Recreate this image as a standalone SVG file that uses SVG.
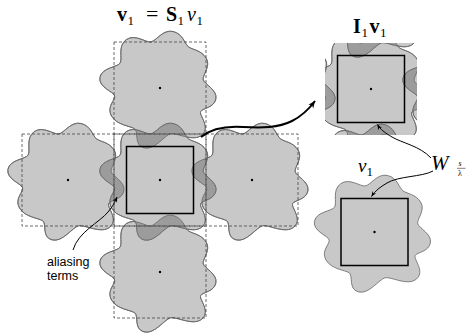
<svg xmlns="http://www.w3.org/2000/svg" xmlns:xlink="http://www.w3.org/1999/xlink" width="467" height="333" viewBox="0 0 467 333">
<style>
.blob{fill:#c8c8c8;stroke:#666;stroke-width:0.8}
.dark{fill:#9c9c9c;stroke:none}
.ol{fill:none;stroke:#666;stroke-width:0.8}
.grid{fill:none;stroke:#444;stroke-width:0.8;stroke-dasharray:3 2}
.sq{fill:none;stroke:#000;stroke-width:1.5}
.dot{fill:#000}
.conn{fill:none;stroke:#000}
.math{font-family:"Liberation Serif","Times New Roman",serif;fill:#000}
.lbl{font-family:"Liberation Sans",Arial,sans-serif;font-size:12.5px;fill:#000}
</style>
<defs>
<path id="b" d="M55.9,10.9 C54.1,19.9 42.8,20.0 40.7,23.5 C38.7,27.1 50.8,39.0 42.2,46.8 C33.6,54.6 16.7,44.4 10.6,45.8 C4.5,47.2 -5.4,62.7 -16.0,59.9 C-26.6,57.1 -21.1,43.4 -25.4,40.7 C-29.7,38.0 -43.2,37.2 -48.5,28.0 C-53.8,18.8 -44.6,12.2 -45.3,8.0 C-46.0,3.8 -61.8,-0.6 -60.1,-10.6 C-58.3,-20.5 -42.5,-20.7 -39.9,-24.9 C-37.2,-29.1 -42.7,-42.1 -33.8,-48.3 C-24.9,-54.6 -14.2,-45.1 -9.0,-46.1 C-3.8,-47.1 2.9,-58.9 13.1,-56.5 C23.3,-54.1 24.4,-44.0 28.7,-41.0 C33.0,-38.0 40.9,-38.0 46.1,-30.0 C51.3,-22.0 42.3,-12.9 43.2,-8.4 C44.1,-3.9 57.7,1.9 55.9,10.9 Z"/>
<clipPath id="cC"><use xlink:href="#b" x="160" y="180"/></clipPath>
<clipPath id="cI"><use xlink:href="#b" x="371" y="89"/></clipPath>
<clipPath id="tileI"><rect x="325" y="43" width="92" height="92"/></clipPath>
<marker id="ah" viewBox="-8 -4 9 8" refX="0" refY="0" markerWidth="9" markerHeight="8" markerUnits="userSpaceOnUse" orient="auto">
<path d="M0,0 L-7,-3 L-5,0 L-7,3 Z" fill="#000"/>
</marker>
<marker id="ahs" viewBox="-7 -3 8 6" refX="0" refY="0" markerWidth="7" markerHeight="6" markerUnits="userSpaceOnUse" orient="auto">
<path d="M0,0 L-6,-2.5 L-4.2,0 L-6,2.5 Z" fill="#000"/>
</marker>
</defs>

<g id="tile-top"><use xlink:href="#b" x="160" y="88" class="blob"/><circle class="dot" cx="160" cy="88" r="1.2"/></g>
<g id="tile-left"><use xlink:href="#b" x="68" y="180" class="blob"/><circle class="dot" cx="68" cy="180" r="1.2"/></g>
<g id="tile-right"><use xlink:href="#b" x="252" y="180" class="blob"/><circle class="dot" cx="252" cy="180" r="1.2"/></g>
<g id="tile-bottom"><use xlink:href="#b" x="160" y="272" class="blob"/><circle class="dot" cx="160" cy="272" r="1.2"/></g>
<g id="tile-center"><use xlink:href="#b" x="160" y="180" class="blob"/></g>

<g id="aliasing-overlaps">
<g clip-path="url(#cC)">
<use xlink:href="#b" x="160" y="88" class="dark"/>
<use xlink:href="#b" x="68" y="180" class="dark"/>
<use xlink:href="#b" x="252" y="180" class="dark"/>
<use xlink:href="#b" x="160" y="272" class="dark"/>
</g>
<use xlink:href="#b" x="160" y="88" class="ol"/>
<use xlink:href="#b" x="68" y="180" class="ol"/>
<use xlink:href="#b" x="252" y="180" class="ol"/>
<use xlink:href="#b" x="160" y="272" class="ol"/>
<use xlink:href="#b" x="160" y="180" class="ol"/>
</g>

<g id="grid">
<rect class="grid" x="114" y="42" width="92" height="92"/>
<rect class="grid" x="22" y="134" width="92" height="92"/>
<rect class="grid" x="114" y="134" width="92" height="92"/>
<rect class="grid" x="206" y="134" width="92" height="92"/>
<rect class="grid" x="114" y="226" width="92" height="92"/>
</g>

<g id="center-square">
<rect class="sq" x="126.5" y="146.5" width="67" height="67"/>
<circle class="dot" cx="160" cy="180" r="1.2"/>
</g>

<g id="I1v1">
<g clip-path="url(#tileI)">
<use xlink:href="#b" x="371" y="89" class="blob"/>
<use xlink:href="#b" x="371" y="-3" class="blob"/>
<use xlink:href="#b" x="371" y="181" class="blob"/>
<use xlink:href="#b" x="279" y="89" class="blob"/>
<use xlink:href="#b" x="463" y="89" class="blob"/>
<g clip-path="url(#cI)">
<use xlink:href="#b" x="371" y="-3" class="dark"/>
<use xlink:href="#b" x="371" y="181" class="dark"/>
<use xlink:href="#b" x="279" y="89" class="dark"/>
<use xlink:href="#b" x="463" y="89" class="dark"/>
</g>
<use xlink:href="#b" x="371" y="89" class="ol"/>
<use xlink:href="#b" x="371" y="-3" class="ol"/>
<use xlink:href="#b" x="371" y="181" class="ol"/>
<use xlink:href="#b" x="279" y="89" class="ol"/>
<use xlink:href="#b" x="463" y="89" class="ol"/>
</g>
<rect class="sq" x="337.5" y="55.5" width="67" height="67"/>
<circle class="dot" cx="371" cy="89" r="1.2"/>
</g>

<g id="v1">
<use xlink:href="#b" x="374.5" y="232" class="blob"/>
<rect class="sq" x="341" y="198.5" width="67" height="67"/>
<circle class="dot" cx="374.5" cy="232" r="1.2"/>
</g>

<g id="connectors">
<path class="conn" stroke-width="2" marker-end="url(#ah)" d="M201,137 C212,128 228,126 243,127 C262,128 278,128 292,121 C302,116 309,109 315,101"/>
<path class="conn" stroke-width="1" marker-end="url(#ahs)" d="M73,250 C78,232 100,222 108,212 C113,206 115,202 117,197"/>
<path class="conn" stroke-width="1" marker-end="url(#ahs)" d="M431,158 C420,146 402,143 392,137 C385,133 380,129 377.5,124.5"/>
<path class="conn" stroke-width="1" marker-end="url(#ahs)" d="M433,171 C422,177 398,176 387,183 C380,187 375,191 371.5,196.5"/>
</g>

<g id="labels">
<text class="math" font-size="20"><tspan x="117" y="21" font-weight="bold">v</tspan><tspan x="127.5" y="24.5" font-size="13">1</tspan><tspan x="146" y="21" font-size="22">=</tspan><tspan x="166" y="21" font-weight="bold">S</tspan><tspan x="177.5" y="24.5" font-size="13">1</tspan><tspan x="187" y="21" font-style="italic">v</tspan><tspan x="196.5" y="24.5" font-size="13">1</tspan></text>
<text class="math" font-size="20"><tspan x="353" y="33" font-weight="bold">I</tspan><tspan x="361.5" y="36.5" font-size="13">1</tspan><tspan x="369.5" y="33" font-weight="bold">v</tspan><tspan x="380" y="36.5" font-size="13">1</tspan></text>
<text class="math" font-size="19"><tspan x="358" y="172" font-style="italic">v</tspan><tspan x="366.5" y="175.5" font-size="13">1</tspan></text>
<text class="math" x="431" y="170" font-size="21" font-style="italic">W</text>
<text class="math" x="458.5" y="166" font-size="8" font-style="italic">s</text>
<line x1="457" y1="168.3" x2="465.5" y2="168.3" stroke="#000" stroke-width="0.5"/>
<text class="math" x="458" y="176" font-size="8">λ</text>
<text class="lbl" x="47" y="266">aliasing</text>
<text class="lbl" x="47" y="280">terms</text>
</g>
</svg>
